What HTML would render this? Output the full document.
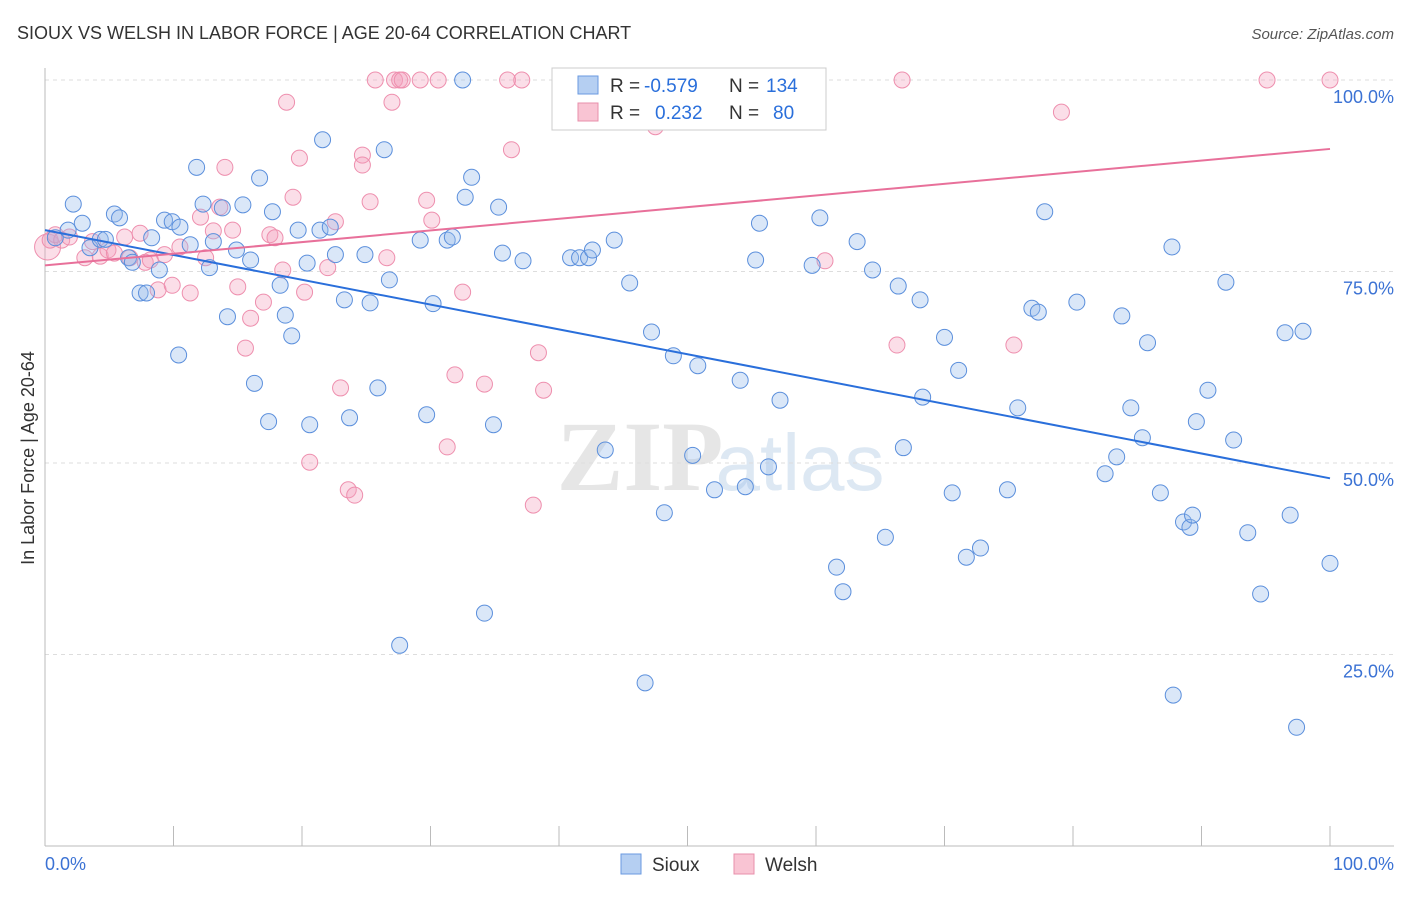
<!DOCTYPE html>
<html><head><meta charset="utf-8"><style>
body{margin:0;background:#fff;font-family:"Liberation Sans",sans-serif;}
</style></head><body>
<svg id="chart" width="1406" height="892" xmlns="http://www.w3.org/2000/svg">
<text x="17" y="39" font-size="18" fill="#333">SIOUX VS WELSH IN LABOR FORCE | AGE 20-64 CORRELATION CHART</text>
<text x="1394" y="39" font-size="15" fill="#555" font-style="italic" text-anchor="end">Source: ZipAtlas.com</text>
<text x="640" y="490" font-size="100" fill="#e6e6e6" font-family="Liberation Serif" font-weight="bold" text-anchor="middle">ZIP</text>
<text x="800" y="490" font-size="80" fill="#dde8f3" text-anchor="middle">atlas</text>
<g id="grid"></g><g id="axes"></g><g id="pts"></g><g id="lines"></g>
<text x="34" y="458" font-size="18" fill="#333" text-anchor="middle" transform="rotate(-90 34 458)">In Labor Force | Age 20-64</text>
<text x="45" y="870" font-size="18" fill="#3b72d4">0.0%</text>
<text x="1394" y="870" font-size="18" fill="#3b72d4" text-anchor="end">100.0%</text>
<g>
<rect x="552" y="68" width="274" height="62" fill="#fff" stroke="#ccc"/>
<rect x="578" y="76" width="20" height="18" fill="#b5cff2" stroke="#6a9ae0"/>
<rect x="578" y="103" width="20" height="18" fill="#f9c4d3" stroke="#e88fab"/>
<text x="610" y="92" font-size="19" fill="#333">R =</text>
<text x="644" y="92" font-size="19" fill="#2a6fdb">-0.579</text>
<text x="729" y="92" font-size="19" fill="#333">N =</text>
<text x="766" y="92" font-size="19" fill="#2a6fdb">134</text>
<text x="610" y="119" font-size="19" fill="#333">R =</text>
<text x="655" y="119" font-size="19" fill="#2a6fdb">0.232</text>
<text x="729" y="119" font-size="19" fill="#333">N =</text>
<text x="773" y="119" font-size="19" fill="#2a6fdb">80</text>
</g>
<g><rect x="621" y="854" width="20" height="20" fill="#b5cff2" stroke="#6a9ae0"/><text x="652" y="871" font-size="19" fill="#333">Sioux</text></g>
<g><rect x="734" y="854" width="20" height="20" fill="#f9c4d3" stroke="#e88fab"/><text x="765" y="871" font-size="19" fill="#333">Welsh</text></g>
</svg>
<script>
const yTicks=[25,50,75,100];
const yTickLabels=["25.0%","50.0%","75.0%","100.0%"];
const xTicks=[0,10,20,30,40,50,60,70,80,90,100];
const siouxX=[0.8,1.8,2.2,2.9,3.5,4.3,4.7,5.4,5.8,6.5,6.8,7.4,7.9,8.3,8.9,9.3,9.9,10.4,10.5,11.3,11.8,12.3,12.8,13.1,13.8,14.2,14.9,15.4,16.0,16.3,16.7,17.4,17.7,18.3,18.7,19.2,19.7,20.4,20.6,21.4,21.6,22.2,22.6,23.3,23.7,24.9,25.3,25.9,26.4,26.8,27.6,29.2,29.7,30.2,31.3,31.7,32.5,32.7,33.2,34.2,34.9,35.3,35.6,37.2,40.9,41.6,42.3,42.6,43.6,44.3,45.5,46.7,47.2,48.2,48.9,50.4,50.8,52.1,54.1,54.5,55.6,55.3,56.3,57.2,59.7,60.3,61.6,62.1,63.2,64.4,65.4,66.4,66.8,68.1,68.3,70.0,70.6,71.1,71.7,72.8,74.9,75.7,76.8,77.3,77.8,80.3,82.5,83.4,83.8,84.5,85.4,85.8,86.8,87.7,87.8,88.6,89.1,89.3,89.6,90.5,91.9,92.5,93.6,94.6,96.5,96.9,97.9,97.4,100];
const siouxY=[79.4,80.4,83.8,81.3,78.1,79.2,79.2,82.5,82.0,76.8,76.2,72.2,72.2,79.4,75.2,81.7,81.5,64.1,80.8,78.5,88.6,83.8,75.5,78.9,83.3,69.1,77.8,83.7,76.5,60.4,87.2,55.4,82.8,73.2,69.3,66.6,80.4,76.1,55.0,80.4,92.2,80.8,77.2,71.3,55.9,77.2,70.9,59.8,90.9,73.9,26.2,79.1,56.3,70.8,79.1,79.5,100,84.7,87.3,30.4,55.0,83.4,77.4,76.4,76.8,76.8,76.8,77.8,51.7,79.1,73.5,21.3,67.1,43.5,64.0,51.0,62.7,46.5,60.8,46.9,81.3,76.5,49.5,58.2,75.8,82.0,36.4,33.2,78.9,75.2,40.3,73.1,52.0,71.3,58.6,66.4,46.1,62.1,37.7,38.9,46.5,57.2,70.2,69.7,82.8,71.0,48.6,50.8,69.2,57.2,53.3,65.7,46.1,78.2,19.7,42.3,41.6,43.2,55.4,59.5,73.6,53.0,40.9,32.9,67.0,43.2,67.2,15.5,36.9];
const welshX=[0.2,0.4,0.8,1.3,1.9,3.1,3.7,4.3,4.9,5.4,6.2,6.6,7.4,7.8,8.2,8.8,9.3,9.9,10.5,11.3,12.1,12.5,13.1,14.0,13.6,14.6,15.0,15.6,16.0,17.0,17.5,17.9,18.5,18.8,19.3,19.8,20.2,20.6,22.0,22.6,23.0,23.6,24.1,24.7,24.7,25.3,25.7,26.6,27.0,27.2,27.6,27.8,29.2,29.7,30.1,30.6,31.3,31.9,32.5,34.2,36.0,36.3,37.1,38.0,38.4,38.8,41.2,47.5,60.7,66.3,66.7,75.4,79.1,95.1,100];
const welshY=[78.2,79.1,79.8,79.1,79.5,76.8,78.9,77.0,77.8,77.4,79.5,76.8,80.0,76.2,76.5,72.6,77.2,73.2,78.2,72.2,82.1,76.8,80.3,88.6,83.4,80.4,73.0,65.0,68.9,71.0,79.8,79.4,75.2,97.1,84.7,89.8,72.3,50.1,75.5,81.5,59.8,46.5,45.8,90.2,88.9,84.1,100,76.8,97.1,100,100,100,100,84.3,81.7,100,52.1,61.5,72.3,60.3,100,90.9,100,44.5,64.4,59.5,100,93.9,76.4,65.4,100,65.4,95.8,100,100];
const siouxTrend=[80.4,48.0];
const welshTrend=[75.8,91.0];
const NS='http://www.w3.org/2000/svg';
const X=v=>45+v*12.85, Y=v=>846-v*7.66;
function mk(tag,attrs,parent){const e=document.createElementNS(NS,tag);for(const k in attrs)e.setAttribute(k,attrs[k]);document.getElementById(parent).appendChild(e);return e;}
yTicks.forEach((t,i)=>{
 const l=mk('line',{x1:45,x2:1394,y1:Y(t),y2:Y(t),stroke:'#ddd','stroke-dasharray':'4,4'},'grid');
 
 
 const tx=mk('text',{x:1394,y:Y(t)+23,'font-size':18,fill:'#3b72d4','text-anchor':'end'},'grid');
 tx.textContent=yTickLabels[i];
 
 
});
const ax=mk('line',{x1:45,x2:45,y1:68,y2:846,stroke:'#bbb'},'axes');


const bx=mk('line',{x1:45,x2:1394,y1:846,y2:846,stroke:'#bbb'},'axes');


xTicks.forEach(t=>{
 const l=mk('line',{x1:X(t),x2:X(t),y1:826,y2:846,stroke:'#bbb'},'axes');
 
 
});
welshX.forEach((x,i)=>{
 const c=mk('circle',{cx:X(x),cy:Y(welshY[i]),r:i==0?13:8,fill:'rgba(244,160,188,0.35)',stroke:'#ee8fae','stroke-width':1},'pts');
 
 
});
siouxX.forEach((x,i)=>{
 const c=mk('circle',{cx:X(x),cy:Y(siouxY[i]),r:8,fill:'rgba(150,185,235,0.35)',stroke:'#5b8fdc','stroke-width':1},'pts');
 
 
});
const l1=mk('line',{x1:X(0),y1:Y(siouxTrend[0]),x2:X(100),y2:Y(siouxTrend[1]),stroke:'#2a6fdb','stroke-width':2},'lines');


const l2=mk('line',{x1:X(0),y1:Y(welshTrend[0]),x2:X(100),y2:Y(welshTrend[1]),stroke:'#e8709a','stroke-width':2},'lines');


</script>
</body></html>
